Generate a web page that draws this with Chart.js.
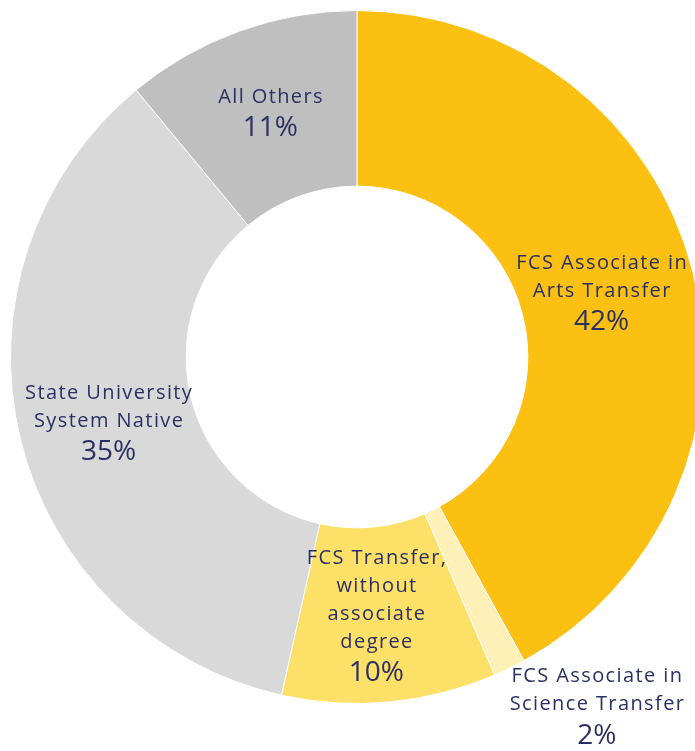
<!DOCTYPE html>
<html>
<head>
<meta charset="utf-8">
<script src="https://cdn.jsdelivr.net/npm/chart.js@4/dist/chart.umd.min.js"></script>
<style>
  html, body { margin: 0; padding: 0; background: #ffffff; overflow: hidden; width: 695px; height: 751px; }
  #wrap { position: absolute; left: 0; top: 0; width: 714px; height: 751px; }
</style>
</head>
<body>
<div id="wrap"><canvas id="c" width="714" height="751"></canvas></div>
<script>
// ---- data ----
const categories = [
  "FCS Associate in Arts Transfer",
  "FCS Associate in Science Transfer",
  "FCS Transfer, without associate degree",
  "State University System Native",
  "All Others"
];
const labelLines = [
  ["FCS Associate in", "Arts Transfer"],
  ["FCS Associate in", "Science Transfer"],
  ["FCS Transfer,", "without", "associate", "degree"],
  ["State University", "System Native"],
  ["All Others"]
];
const shares = [42, 1.5, 10, 35.5, 11];
const percentLabels = ["42%", "2%", "10%", "35%", "11%"];
const colors = ["#FBC012", "#FEF0B6", "#FDE068", "#D9D9D9", "#BFBFBF"];

// label placement tweaks (pixels, relative to arc midpoint)
const labelOffsets = [[-6, 0], [126, 117], [-5, 1], [3, 5], [1, -1]];

const sliceLabels = {
  id: 'sliceLabels',
  afterDatasetsDraw(chart) {
    const ctx = chart.ctx;
    const meta = chart.getDatasetMeta(0);
    ctx.save();
    ctx.fillStyle = '#2B3063';
    ctx.textAlign = 'center';
    ctx.textBaseline = 'middle';
    meta.data.forEach((arc, i) => {
      const p = arc.getProps(['x', 'y', 'startAngle', 'endAngle', 'innerRadius', 'outerRadius'], true);
      const mid = (p.startAngle + p.endAngle) / 2;
      const r = (p.innerRadius + p.outerRadius) / 2;
      const ax = p.x + Math.cos(mid) * r + labelOffsets[i][0];
      const ay = p.y + Math.sin(mid) * r + labelOffsets[i][1];
      const lines = labelLines[i];
      const lh = 28, gap = 31;
      const span = (lines.length - 1) * lh + gap;
      let y = ay - span / 2;
      ctx.font = '20px "Open Sans", sans-serif';
      ctx.letterSpacing = '1.4px';
      lines.forEach((t) => { ctx.fillText(t, ax + 0.7, y); y += lh; });
      y += gap - lh;
      ctx.font = '28px "Open Sans", sans-serif';
      ctx.letterSpacing = '0px';
      ctx.fillText(percentLabels[i], ax, y);
    });
    ctx.restore();
  }
};

new Chart(document.getElementById('c'), {
  type: 'doughnut',
  data: {
    labels: categories,
    datasets: [{
      data: shares,
      backgroundColor: colors,
      borderColor: '#ffffff',
      borderWidth: 1,
      hoverOffset: 0,
      offset: 0
    }]
  },
  options: {
    responsive: false,
    animation: false,
    cutout: '49.3%',
    layout: { padding: { left: 10, right: 10, top: 10, bottom: 47 } },
    plugins: { legend: { display: false }, tooltip: { enabled: false } }
  },
  plugins: [sliceLabels]
});
</script>
</body>
</html>
